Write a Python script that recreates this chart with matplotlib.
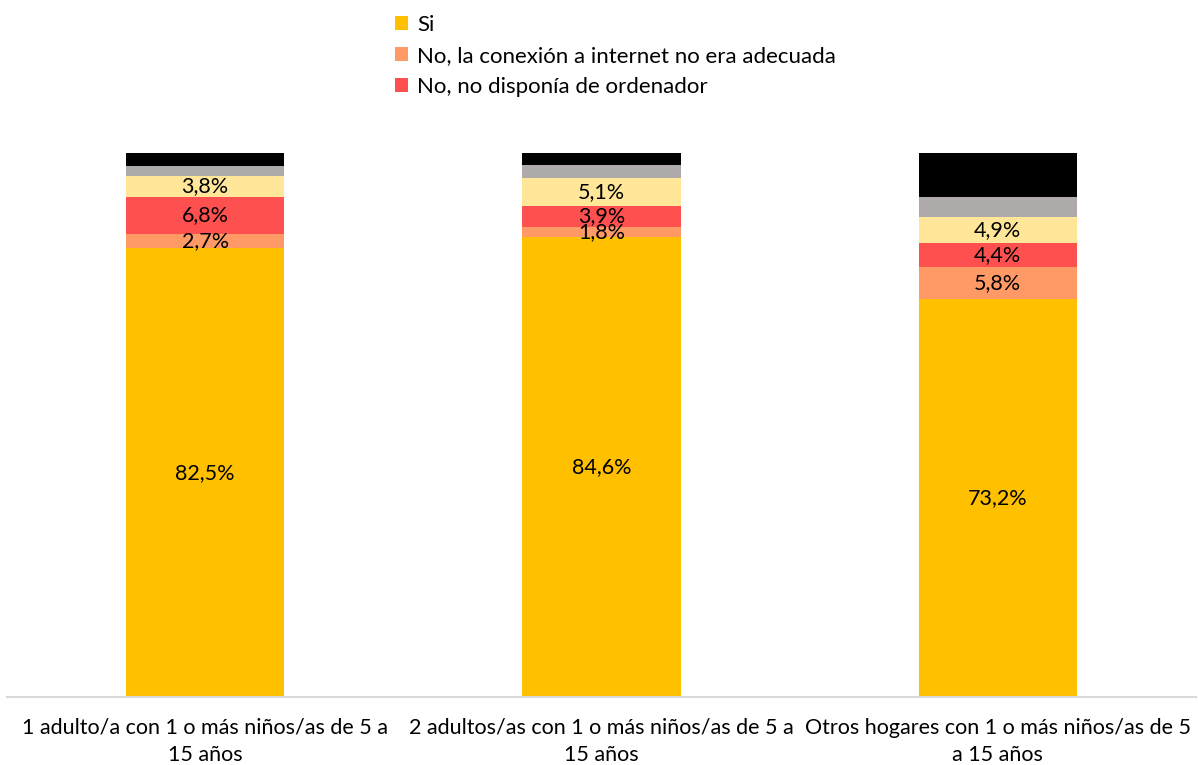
import matplotlib.pyplot as plt
import numpy as np

categorias = [
    '1 adulto/a con 1 o más niños/as de 5 a\n15 años',
    '2 adultos/as con 1 o más niños/as de 5 a\n15 años',
    'Otros hogares con 1 o más niños/as de 5\na 15 años',
]
si = [82.5, 84.6, 73.2]
no_conexion = [2.7, 1.8, 5.8]
no_ordenador = [6.8, 3.9, 4.4]
no_otros = [3.8, 5.1, 4.9]
no_sabe = [1.9, 2.4, 3.7]
no_contesta = [2.3, 2.2, 8.0]

series = [
    ('Si', si, '#FFC000', True),
    ('No, la conexión a internet no era adecuada', no_conexion, '#FF9966', True),
    ('No, no disponía de ordenador', no_ordenador, '#FF5050', True),
    ('No, otros motivos', no_otros, '#FFE699', False),
    ('No sabe', no_sabe, '#AEAAAA', False),
    ('No contesta', no_contesta, '#000000', False),
]

plt.rcParams['font.family'] = ['Lato', 'DejaVu Sans']

fig = plt.figure(figsize=(11.98, 7.65), dpi=100)
ax = fig.add_axes([7 / 1198, 68 / 765, 1189 / 1198, 544 / 765])

x = np.arange(len(categorias))
bottom = np.zeros(len(categorias))
handles = []
for nombre, valores, color, etiqueta in series:
    valores = np.array(valores)
    bars = ax.bar(x, valores, 0.4, bottom=bottom, color=color, label=nombre)
    if etiqueta:
        handles.append(bars)
    if nombre != 'No sabe' and nombre != 'No contesta':
        for xi, b, v in zip(x, bottom, valores):
            ax.text(xi, b + v / 2, f'{v:.1f}%'.replace('.', ','), ha='center', va='center',
                    fontsize=15.5, color='#000000')
    bottom += valores

ax.set_xlim(-0.5, 2.5)
ax.set_ylim(0, 100)
ax.set_yticks([])
ax.set_xticks(x)
ax.set_xticklabels(categorias, fontsize=15.5, linespacing=1.45)
ax.tick_params(axis='x', length=0, pad=15)
for s in ['top', 'right', 'left']:
    ax.spines[s].set_visible(False)
ax.spines['bottom'].set_color('#D9D9D9')
ax.spines['bottom'].set_linewidth(1.5)

fig.legend(handles=handles, loc='upper left', bbox_to_anchor=(386 / 1198, 1 - 6 / 765),
           frameon=False, fontsize=16, handlelength=0.6, handleheight=0.6,
           handletextpad=0.4, labelspacing=0.5, borderaxespad=0)

plt.savefig('out.png')
